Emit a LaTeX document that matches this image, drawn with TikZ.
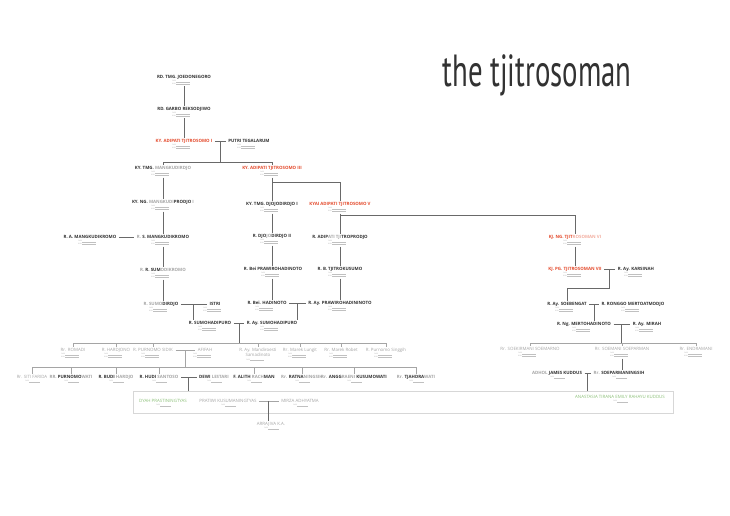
\documentclass[tikz,border=0pt]{standalone}
\usepackage{graphicx}
\usepackage{fontspec}
\setmainfont{Open Sans}
\newfontfamily\tfont{PT Sans}
\usetikzlibrary{calc}
\definecolor{tred}{RGB}{228,74,44}
\definecolor{tdark}{RGB}{50,50,50}
\definecolor{tgray}{RGB}{165,165,165}
\definecolor{tgreen}{RGB}{140,192,120}
\definecolor{lgray}{RGB}{105,105,105}
\definecolor{boxgray}{RGB}{215,215,215}
\newcommand\g[1]{\textcolor{tgray}{#1}}
\tikzset{
 nm/.style={font=\fontsize{4.4}{4.8}\selectfont\bfseries, inner sep=0pt, text height=3.1pt, text depth=0pt, text=tdark},
 nmred/.style={nm, text=tred},
 nmg/.style={font=\fontsize{4.4}{4.8}\selectfont, inner sep=0pt, text height=3.1pt, text depth=0pt, text=tgray},
 nmgreen/.style={nmg, text=tgreen},
 tinyt/.style={font=\fontsize{1.6}{1.8}\selectfont, inner sep=0pt, text=tgray},
 dl/.style={draw=tgray!70, line width=0.25pt},
 ln/.style={draw=lgray, line width=0.9pt, shorten >=1.5pt},
 lnb/.style={draw=lgray, line width=0.9pt},
 lnl/.style={draw=tgray, line width=0.7pt, shorten >=1.5pt},
 mar/.style={draw=lgray, line width=0.9pt},
 marl/.style={draw=tgray, line width=0.7pt},
}
\newcommand\pers[5]{%
 \node[#4] (#1) at (#2,#3) {#5};
 \node[tinyt,anchor=east] (#1b) at ($(#2,#3)+(-8,4.1)$) {DOB};
 \node[tinyt,anchor=east] (#1d) at ($(#2,#3)+(-8,6.6)$) {DOD};
 \draw[dl] (#1b.south east) -- ++(14,0);
 \draw[dl] (#1d.south east) -- ++(14,0);
 \coordinate (#1x) at ($(#2,#3)+(0,9.5)$);
}
\newcommand\persi[5]{%
 \node[#4] (#1) at (#2,#3) {#5};
 \node[tinyt,anchor=east] (#1b) at ($(#2,#3)+(-3,4.1)$) {DOB};
 \draw[dl] (#1b.south east) -- ++(11,0);
 \coordinate (#1x) at ($(#2,#3)+(0,6.5)$);
}
\begin{document}
\begin{tikzpicture}[x=1pt,y=-1pt]
\path[use as bounding box, fill=white] (0,0) rectangle (730,516);
\node[font=\tfont\fontsize{45}{45}\selectfont, text=tdark, anchor=base, inner sep=0pt] (title) at (537,87) {\scalebox{0.64}[1]{the tjitrosoman}};

% box of the youngest generation
\coordinate (boxnw) at (133,391);
\coordinate (boxse) at (673,413);
\draw[boxgray, line width=0.8pt] (boxnw) rectangle (boxse);

% people
\pers{A}{184}{77}{nm}{RD. TMG. JOEDONEGORO}
\pers{B}{184}{109}{nm}{RD. GARBO REKSODJIWO}
\pers{C}{184}{141}{nmred}{KY. ADIPATI TJITROSOMO I}
\pers{D}{249}{141}{nm}{PUTRI TEGALARUM}
\pers{E}{163}{168}{nm}{KY. TMG. \g{MANGKUDIRDJO}}
\pers{F}{272}{168}{nmred}{KY. ADIPATI TJITROSOMO III}
\pers{G}{163}{202}{nm}{KY. NG. \g{MANGKUDI}PRODJO \g{I}}
\pers{H}{163}{237}{nm}{\g{R.} S. MANGKUDIKROMO}
\pers{I}{90}{237}{nm}{R. A. MANGKUDIKROMO}
\pers{J}{163}{270}{nm}{\g{R.} R. SUM\g{ODIKROMO}}
\pers{K}{161}{304}{nm}{\g{R. SUMO}DIRDJO}
\pers{L}{215}{304}{nm}{ISTRI}
\pers{M}{210}{323}{nm}{R. SUMOHADIPURO}
\pers{N}{272}{323}{nm}{R. Ay. SUMOHADIPURO}
\pers{O}{272}{204}{nm}{KY. TMG. DJOJODIRDJO I}
\pers{P}{340}{204}{nmred}{KYAI ADIPATI TJITROSOMO V}
\pers{Q}{272}{236}{nm}{R. DJO\g{JO}DIRDJO II}
\pers{R}{273}{269}{nm}{R. Bei PRAWIROHADINOTO}
\pers{S}{267}{303}{nm}{R. Bei. HADINOTO}
\pers{T}{340}{303}{nm}{R. Ay. PRAWIROHADININOTO}
\pers{U}{340}{237}{nm}{R. ADIP\g{ATI TJI}TROPRODJO}
\pers{V}{340}{269}{nm}{R. B. TJITROKUSUMO}
\pers{W}{575}{237}{nmred}{KJ. NG. TJIT\textcolor{tred!45}{ROSOMAN VI}}
\pers{X}{575}{269}{nmred}{KJ. PG. TJITROSOMAN VII}
\pers{Y}{636}{269}{nm}{R. Ay. KARSINAH}
\pers{Z}{567}{304}{nm}{R. Ay. SOEBENGAT}
\pers{AA}{633}{304}{nm}{R. RONGGO MERTOATMODJO}
\pers{BB}{584}{324}{nm}{R. Ng. MERTOHADINOTO}
\pers{CC}{647}{324}{nm}{R. Ay. MIRAH}
\pers{DD}{530}{349}{nmg}{Rr. SOEKIRMANI SOEMARNO}
\pers{EE}{622}{349}{nmg}{Rr. SOEMANI SOEPARMAN}
\pers{FF}{696}{349}{nmg}{Rr. ENDRAMANI}
\persi{GG}{557}{373}{nm}{\g{ADHOL} JAMES KUDDUS}
\persi{HH}{619}{373}{nm}{\g{Rr.} SOEPARMANINGSIH}
\persi{II}{620}{397}{nmgreen}{ANASTASIA TIRANA EMILY RAHAYU KUDDUS}
% row 4
\pers{ra}{73}{350}{nmg}{Rr. ROMADI}
\pers{rb}{116}{350}{nmg}{R. HARDJONO}
\pers{rc}{153}{350}{nmg}{R. PURNOMO SIDIK}
\pers{rd}{205}{350}{nmg}{AFIFAH}
\node[font=\fontsize{4.4}{4.8}\selectfont, inner sep=0pt, text=tgray, align=center] (re) at (258,352.5) {R. Ay. Mandiroesti\\Samadinoto};
\node[tinyt,anchor=east] (reb) at ($(258,350)+(-8,9.5)$) {DOB};
\draw[dl] (reb.south east) -- ++(14,0);
\pers{rf}{300}{350}{nmg}{Rr. Marek Lungit}
\pers{rg}{341}{350}{nmg}{Rr. Marek Robet}
\pers{rh}{386}{350}{nmg}{R. Purnomo Singgih}
% row 5
\persi{sa}{32}{377}{nmg}{Rr. SITI FARIDA}
\persi{sb}{71}{377}{nm}{\g{RR.} PURNOMO\g{WATI}}
\persi{sc}{116}{377}{nm}{R. BUDI \g{HARDJO}}
\persi{sd}{159}{377}{nm}{R. HUDI \g{SANTOSO}}
\persi{se}{214}{377}{nm}{DEWI \g{LESTARI}}
\persi{sf}{254}{377}{nm}{F. ALITH \g{RACH}MAN}
\persi{sg}{302}{377}{nm}{\g{Rr.} RATNA\g{NINGSIH}}
\persi{sh}{354}{377}{nm}{\g{Rr.} ANGG\g{RAENI} KUSUMOWATI}
\persi{si}{416}{377}{nm}{\g{Rr.} TJAHDRA\g{WATI}}
% row 6
\persi{ta}{163}{401}{nmgreen}{DYAH PRASTININGTYAS}
\persi{tb}{228}{401}{nmg}{PRATIWI KUSUMANINGTYAS}
\persi{tc}{300}{401}{nmg}{MIRZA ADHYATMA}
\persi{ua}{271}{424}{nmg}{ARRAJIVA K.A.}

% connectors, left line
\draw[ln] (Ax) -- (B.north);
\draw[ln] (Bx) -- (C.north);
\draw[mar] ([xshift=2.5pt]C.east) -- coordinate[pos=.5] (CD) ([xshift=-2.5pt]D.west);
\coordinate (bCD) at ($(CD)+(0,21)$);
\draw[lnb] (CD) -- (bCD);
\draw[ln] (bCD) -| (E.north);
\draw[ln] (bCD) -| (F.north);
\draw[ln] (Ex) -- (G.north);
\draw[ln] (Gx) -- (H.north);
\draw[mar] ([xshift=2.5pt]I.east) -- ([xshift=-2.5pt]H.west);
\draw[ln] (Hx) -- (J.north);
\draw[ln] (Jx) -- (Jx |- K.north);
\draw[mar] ([xshift=2.5pt]K.east) -- coordinate[pos=.5] (KL) ([xshift=-2.5pt]L.west);
\draw[ln] (KL) -- (KL |- M.north);
\draw[mar] ([xshift=2.5pt]M.east) -- coordinate[pos=.5] (MN) ([xshift=-2.5pt]N.west);
\coordinate (b4) at ($(MN)+(0,20)$);
\draw[lnb] (MN) -- (b4);
\foreach \c in {ra,rb,rc,re,rf,rg,rh} \draw[lnl] (b4) -| (\c.north);
\draw[marl] ([xshift=2.5pt]rc.east) -- coordinate[pos=.5] (RCD) ([xshift=-2.5pt]rd.west);
\coordinate (b5) at ($(RCD)+(0,17)$);
\draw[marl] (RCD) -- (b5);
\foreach \c in {sa,sb,sc,sd,sf,sg,sh,si} \draw[lnl] (b5) -| (\c.north);
\draw[mar] ([xshift=2.5pt]sd.east) -- coordinate[pos=.5] (HD) ([xshift=-2.5pt]se.west);
\draw[lnb] (HD) -- (HD |- boxnw);
\draw[marl] ([xshift=2.5pt]tb.east) -- coordinate[pos=.5] (PM) ([xshift=-2.5pt]tc.west);
\draw[ln] (PM) -- (PM |- ua.north);

% connectors, middle line
\coordinate (bF) at (272,182);
\draw[ln] (Fx) -- (O.north);
\draw[ln] (bF) -| (P.north);
\draw[ln] (Ox) -- (Q.north);
\draw[ln] (Qx) -- (Qx |- R.north);
\draw[ln] (Qx |- Rx) -- (Qx |- S.north);
\draw[mar] ([xshift=2.5pt]S.east) -- coordinate[pos=.5] (ST) ([xshift=-2.5pt]T.west);
\draw[ln] (ST) -- (ST |- N.north);
\draw[ln] (Px) -- (U.north);
\draw[ln] (Ux) -- (V.north);
\draw[ln] (Vx) -- (T.north);

% connectors, right line
\coordinate (bP) at (340,215);
\draw[ln] (bP) -| (W.north);
\draw[ln] (Wx) -- (X.north);
\draw[mar] ([xshift=2.5pt]X.east) -- coordinate[pos=.5] (XY) ([xshift=-2.5pt]Y.west);
\coordinate (bXY) at ($(XY)+(0,19)$);
\draw[lnb] (XY) -- (bXY);
\draw[ln] (bXY) -| (Z.north);
\draw[mar] ([xshift=2.5pt]Z.east) -- coordinate[pos=.5] (ZA) ([xshift=-2.5pt]AA.west);
\draw[ln] (ZA) -- (ZA |- BB.north);
\draw[mar] ([xshift=2.5pt]BB.east) -- coordinate[pos=.5] (BC) ([xshift=-2.5pt]CC.west);
\coordinate (bBC) at ($(BC)+(0,19)$);
\draw[lnb] (BC) -- (bBC);
\foreach \c in {DD,EE,FF} \draw[lnl] (bBC) -| (\c.north);
\draw[ln] (EEx) -- (EEx |- HH.north);
\draw[mar] ([xshift=2.5pt]GG.east) -- coordinate[pos=.5] (GH) ([xshift=-2.5pt]HH.west);
\draw[lnb] (GH) -- (GH |- boxnw);
\end{tikzpicture}
\end{document}
